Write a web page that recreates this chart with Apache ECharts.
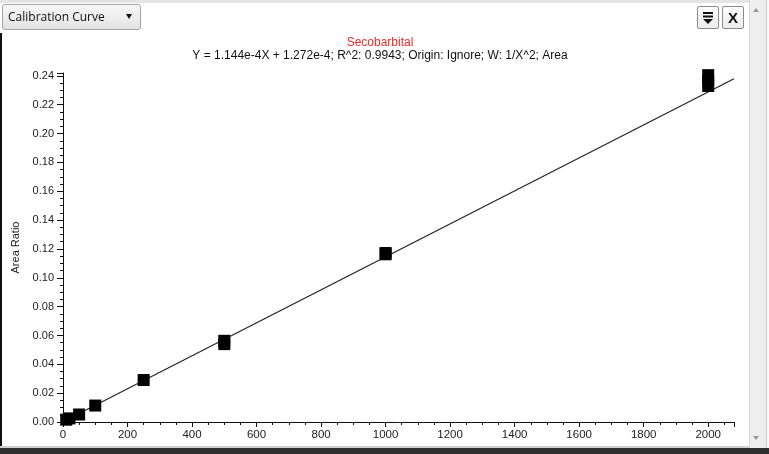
<!DOCTYPE html>
<html>
<head>
<meta charset="utf-8">
<script src="https://cdn.jsdelivr.net/npm/echarts@6/dist/echarts.min.js"></script>
<style>
  html,body{margin:0;padding:0;background:#fff;}
  #wrap{position:relative;width:769px;height:454px;overflow:hidden;background:#fff;}
  #chart{position:absolute;left:0;top:0;width:769px;height:454px;}
  .chrome{position:absolute;z-index:5;box-sizing:border-box;}
  #topline{left:0;top:0;width:769px;height:3px;background:#e4e4e4;}
  #leftborder{left:0;top:33px;width:2px;height:421px;background:#111;}
  #bottomband{left:0;top:448px;width:769px;height:6px;background:#2e2e2e;}
  #bottomline{left:0;top:446px;width:769px;height:2px;background:#cfcfcf;}
  #scroll{left:749px;top:0;width:17px;height:448px;background:#eeeeee;border-left:1px solid #d8d8d8;}
  #rightedge{left:766px;top:0;width:3px;height:448px;background:#fafafa;border-left:1px solid #c8c8c8;}
  #up{left:753px;top:8px;width:0;height:0;border-left:3px solid transparent;border-right:3px solid transparent;border-bottom:4px solid #9a9a9a;}
  #down{left:753px;top:436px;width:0;height:0;border-left:3px solid transparent;border-right:3px solid transparent;border-top:4px solid #9a9a9a;}
  #dropdown{left:2px;top:4px;width:139px;height:26px;border:1px solid #a3a3a3;border-radius:3px;
    background:linear-gradient(#f7f7f7,#e3e3e3);font-family:"Open Sans","Liberation Sans",sans-serif;font-size:12px;color:#111;
    line-height:24px;padding-left:5px;}
  #ddarrow{left:126px;top:14px;width:0;height:0;border-left:3.5px solid transparent;border-right:3.5px solid transparent;border-top:5px solid #111;}
  .btn{top:6px;width:22px;height:23px;border:1px solid #8c8c8c;border-radius:2px;background:linear-gradient(#fdfdfd,#ececec);}
  #b1{left:697px;}
  #b2{left:722px;font-family:"Liberation Sans",Arial,sans-serif;font-weight:bold;font-size:15px;text-align:center;line-height:21px;color:#111;}
</style>
</head>
<body>
<div id="wrap">
  <div id="chart"></div>
  <div class="chrome" id="topline"></div>
  <div class="chrome" id="leftborder"></div>
  <div class="chrome" id="bottomline"></div>
  <div class="chrome" id="bottomband"></div>
  <div class="chrome" id="scroll"></div>
  <div class="chrome" id="rightedge"></div>
  <div class="chrome" id="up"></div>
  <div class="chrome" id="down"></div>
  <div class="chrome" id="dropdown">Calibration Curve</div>
  <div class="chrome" id="ddarrow"></div>
  <div class="chrome btn" id="b1">
    <svg width="20" height="21" viewBox="0 0 20 21">
      <rect x="5" y="5" width="10" height="2" fill="#111"/>
      <rect x="5" y="8.5" width="10" height="2" fill="#111"/>
      <polygon points="5,12 15,12 10,17" fill="#111"/>
    </svg>
  </div>
  <div class="chrome btn" id="b2">X</div>
</div>
<script>
// ---- data ----
const compoundName = "Secobarbital";
const equationText = "Y = 1.144e-4X + 1.272e-4; R^2: 0.9943; Origin: Ignore; W: 1/X^2; Area";
const yAxisTitle = "Area Ratio";

// calibration standards (concentration, area ratio), replicates included
const stdX = [10, 20, 50, 100, 250, 500, 500, 1000, 1000, 2000, 2000, 2000];
const stdY = [0.0016, 0.0025, 0.0052, 0.0114, 0.0291, 0.0540, 0.0563, 0.1163, 0.1172, 0.2330, 0.2365, 0.2405];

// fitted line end points (as drawn)
const fitX = [0, 2080];
const fitY = [0.000127, 0.238];

const xTicks = [0, 200, 400, 600, 800, 1000, 1200, 1400, 1600, 1800, 2000];
const yTicks = [0.00, 0.02, 0.04, 0.06, 0.08, 0.10, 0.12, 0.14, 0.16, 0.18, 0.20, 0.22, 0.24];

const chart = echarts.init(document.getElementById('chart'), null, {renderer: 'canvas'});
const font = '"Liberation Sans", Arial, sans-serif';

const option = {
  backgroundColor: '#ffffff',
  animation: false,
  title: {
    text: compoundName,
    subtext: equationText,
    left: 375,
    textAlign: 'center',
    top: 32,
    itemGap: 1,
    textStyle: {color: '#ee2b2b', fontSize: 12, fontWeight: 'normal', fontFamily: font},
    subtextStyle: {color: '#111', fontSize: 12, fontFamily: font}
  },
  grid: {left: 63, right: 35, top: 73, bottom: 32, containLabel: false},
  xAxis: {
    type: 'value',
    min: 0, max: 2080, interval: 200,
    splitLine: {show: false},
    axisLine: {lineStyle: {color: '#111', width: 1}},
    axisTick: {show: true, length: 5, lineStyle: {color: '#111'}},
    minorTick: {show: true, splitNumber: 4, length: 3, lineStyle: {color: '#111'}},
    axisLabel: {
      color: '#222', fontSize: 11.5, fontFamily: font, margin: 7,
      showMaxLabel: false,
      formatter: v => xTicks.indexOf(v) >= 0 ? String(v) : ''
    }
  },
  yAxis: {
    type: 'value',
    min: 0, max: 0.242, interval: 0.02,
    name: yAxisTitle,
    nameLocation: 'middle',
    nameGap: 32,
    nameTextStyle: {color: '#222', fontSize: 11, fontFamily: font},
    splitLine: {show: false},
    axisLine: {show: true, lineStyle: {color: '#111', width: 1}},
    axisTick: {show: true, length: 6, lineStyle: {color: '#111'}},
    minorTick: {show: true, splitNumber: 4, length: 3, lineStyle: {color: '#111'}},
    axisLabel: {
      color: '#222', fontSize: 11, fontFamily: font, margin: 9,
      showMaxLabel: false,
      formatter: v => {
        const i = yTicks.findIndex(t => Math.abs(t - v) < 1e-9);
        return i >= 0 ? yTicks[i].toFixed(2) : '';
      }
    }
  },
  series: [
    {
      type: 'line',
      data: fitX.map((x, i) => [x, fitY[i]]),
      showSymbol: false,
      lineStyle: {color: '#222', width: 1.2},
      z: 2
    },
    {
      type: 'scatter',
      data: stdX.map((x, i) => [x, stdY[i]]),
      symbol: 'rect',
      symbolSize: 12,
      itemStyle: {color: '#000', opacity: 1},
      z: 3
    }
  ]
};
chart.setOption(option);
</script>
</body>
</html>
